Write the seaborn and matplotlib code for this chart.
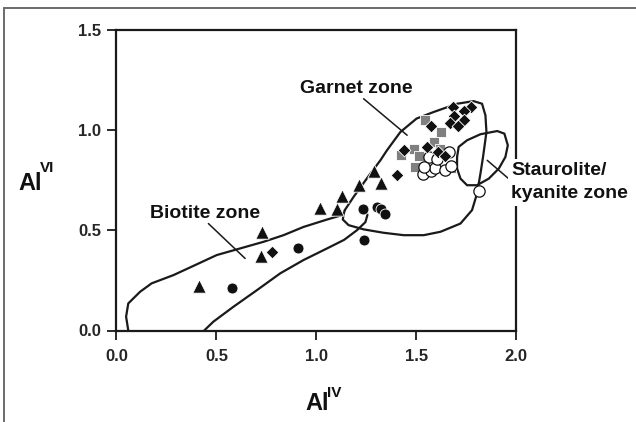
import numpy as np
import pandas as pd
import matplotlib
matplotlib.use("Agg")
import matplotlib.pyplot as plt
from matplotlib.lines import Line2D
import seaborn as sns

# ---------------- data ----------------
tri_x = [0.414, 0.727, 0.724, 1.017, 1.104, 1.129, 1.213, 1.291, 1.322]
tri_y = [0.224, 0.490, 0.369, 0.612, 0.603, 0.670, 0.727, 0.793, 0.735]

circ_x = [0.579, 0.911, 1.235, 1.238, 1.305, 1.325, 1.343]
circ_y = [0.213, 0.412, 0.607, 0.449, 0.615, 0.607, 0.582]

dia_x = [0.777, 1.402, 1.440, 1.576, 1.555, 1.612, 1.643,
         1.684, 1.776, 1.740, 1.688, 1.742, 1.672, 1.708]
dia_y = [0.390, 0.777, 0.900, 1.020, 0.915, 0.888, 0.870,
         1.112, 1.114, 1.096, 1.067, 1.049, 1.035, 1.020]

sq_x = [1.544, 1.627, 1.422, 1.490, 1.515, 1.494, 1.590, 1.676, 1.620]
sq_y = [1.048, 0.989, 0.875, 0.903, 0.870, 0.815, 0.937, 0.812, 0.905]

open_x = [1.535, 1.573, 1.593, 1.645, 1.677, 1.565, 1.603, 1.665, 1.539, 1.816]
open_y = [0.781, 0.793, 0.811, 0.798, 0.818, 0.864, 0.856, 0.890, 0.815, 0.694]

# zone outlines (data units)
bio_up_x = [0.059, 0.048, 0.059, 0.118, 0.176, 0.285, 0.385, 0.502, 0.619,
            0.736, 0.836, 0.936, 1.054, 1.129]
bio_up_y = [0.000, 0.069, 0.135, 0.193, 0.235, 0.276, 0.322, 0.376, 0.409,
            0.442, 0.475, 0.516, 0.553, 0.575]
bio_lo_x = [0.439, 0.485, 0.585, 0.703, 0.820, 0.936, 1.054, 1.140, 1.204,
            1.246, 1.256, 1.250, 1.238]
bio_lo_y = [0.000, 0.044, 0.118, 0.201, 0.285, 0.351, 0.409, 0.452, 0.500,
            0.540, 0.575, 0.600, 0.612]

gar_x = [1.143, 1.187, 1.229, 1.271, 1.321, 1.354, 1.421, 1.502, 1.588, 1.705,
         1.788, 1.830, 1.847, 1.852, 1.835, 1.822, 1.805, 1.780, 1.722, 1.622,
         1.538, 1.438, 1.337, 1.237, 1.162, 1.133, 1.137, 1.143]
gar_y = [0.600, 0.666, 0.724, 0.782, 0.848, 0.898, 0.989, 1.056, 1.089, 1.130,
         1.143, 1.130, 1.072, 0.989, 0.865, 0.782, 0.683, 0.600, 0.533, 0.492,
         0.475, 0.475, 0.487, 0.504, 0.525, 0.553, 0.580, 0.600]

sta_x = [1.705, 1.713, 1.755, 1.822, 1.906, 1.942, 1.959, 1.947, 1.914, 1.864,
         1.805, 1.755, 1.722, 1.705, 1.705]
sta_y = [0.865, 0.915, 0.948, 0.978, 0.994, 0.981, 0.923, 0.865, 0.807, 0.757,
         0.724, 0.724, 0.757, 0.807, 0.865]

zone_labels = ["Garnet zone", "Biotite zone", "Staurolite/", "kyanite zone"]
x_ticks = [0.0, 0.5, 1.0, 1.5, 2.0]
y_ticks = [0.0, 0.5, 1.0, 1.5]

# ---------------- style ----------------
sns.set_style("ticks")
plt.rcParams["font.family"] = ["Liberation Sans", "DejaVu Sans"]
plt.rcParams["font.weight"] = "bold"

fig = plt.figure(figsize=(6.36, 4.22), dpi=100)
ax = fig.add_axes([116.5 / 636, 1 - 330.5 / 422, (516 - 116.5) / 636, (330.5 - 29.5) / 422])

# outline frame of the figure (top and left)
fig.add_artist(Line2D([4 / 636, 4 / 636], [0, 1 - 8 / 422], transform=fig.transFigure,
                      color="#6a6a6a", lw=1.4))
fig.add_artist(Line2D([4 / 636, 1], [1 - 8 / 422, 1 - 8 / 422], transform=fig.transFigure,
                      color="#6a6a6a", lw=1.4))

line_kw = dict(color="#1a1a1a", lw=1.6, sort=False, estimator=None, ax=ax, legend=False)
sns.lineplot(x=bio_up_x, y=bio_up_y, **line_kw)
sns.lineplot(x=bio_lo_x, y=bio_lo_y, **line_kw)
sns.lineplot(x=gar_x, y=gar_y, **line_kw)
sns.lineplot(x=sta_x, y=sta_y, **line_kw)

# leader lines
lead_kw = dict(color="#1a1a1a", lw=1.1, sort=False, estimator=None, ax=ax, legend=False)
sns.lineplot(x=[1.237, 1.455], y=[1.155, 0.973], **lead_kw)
sns.lineplot(x=[0.460, 0.644], y=[0.533, 0.359], **lead_kw)
sns.lineplot(x=[1.856, 1.972], y=[0.848, 0.749], **lead_kw)

# markers
sns.scatterplot(x=sq_x, y=sq_y, marker="s", s=48, color="#7f7f7f", edgecolor="white",
                linewidth=0.6, ax=ax, zorder=3)
sns.scatterplot(x=open_x, y=open_y, marker="o", s=66, color="white", edgecolor="#111111",
                linewidth=0.9, ax=ax, zorder=4)
sns.scatterplot(x=dia_x, y=dia_y, marker="D", s=42, color="#111111", edgecolor="white",
                linewidth=0.6, ax=ax, zorder=5)
sns.scatterplot(x=tri_x, y=tri_y, marker="^", s=92, color="#111111", edgecolor="white",
                linewidth=0.6, ax=ax, zorder=5)
sns.scatterplot(x=circ_x, y=circ_y, marker="o", s=62, color="#111111", edgecolor="white",
                linewidth=0.6, ax=ax, zorder=5)

ax.set_xlim(0, 2)
ax.set_ylim(0, 1.5)
ax.set_xticks(x_ticks)
ax.set_xticklabels([f"{v:.1f}" for v in x_ticks], fontsize=12, fontweight="bold")
ax.set_yticks(y_ticks)
ax.set_yticklabels([f"{v:.1f}" for v in y_ticks], fontsize=12, fontweight="bold")
ax.tick_params(axis="x", direction="out", length=6.5, width=1.3, pad=6.5, color="#1a1a1a")
ax.tick_params(axis="y", direction="out", length=6.5, width=1.3, pad=4.5, color="#1a1a1a")
ax.set_xlabel("")
ax.set_ylabel("")
for sp in ax.spines.values():
    sp.set_visible(True)
    sp.set_linewidth(1.6)
    sp.set_color("#1a1a1a")

# zone labels
ax.text(356 / 636, 1 - 93 / 422, zone_labels[0], transform=fig.transFigure, ha="center",
        va="baseline", fontsize=14, fontweight="bold", color="#111111")
ax.text(205 / 636, 1 - 218 / 422, zone_labels[1], transform=fig.transFigure, ha="center",
        va="baseline", fontsize=14, fontweight="bold", color="#111111")
bb = dict(facecolor="white", edgecolor="none", pad=2.5)
fig.text(511 / 636, 1 - 175 / 422, zone_labels[2], ha="left", va="baseline", fontsize=14,
         fontweight="bold", color="#111111", bbox=bb, zorder=10)
fig.text(511 / 636, 1 - 198 / 422, zone_labels[3], ha="left", va="baseline", fontsize=14,
         fontweight="bold", color="#111111", bbox=bb, zorder=10)

# axis titles: Al with superscripts
fig.text(18 / 636, 1 - 190 / 422, "Al", ha="left", va="baseline", fontsize=17,
         fontweight="bold", color="#111111")
fig.text(39.5 / 636, 1 - 172 / 422, "VI", ha="left", va="baseline", fontsize=11,
         fontweight="bold", color="#111111")
fig.text(305 / 636, 1 - 410 / 422, "Al", ha="left", va="baseline", fontsize=17,
         fontweight="bold", color="#111111")
fig.text(327.5 / 636, 1 - 397 / 422, "IV", ha="left", va="baseline", fontsize=11,
         fontweight="bold", color="#111111")

fig.savefig("out.png", dpi=100)
